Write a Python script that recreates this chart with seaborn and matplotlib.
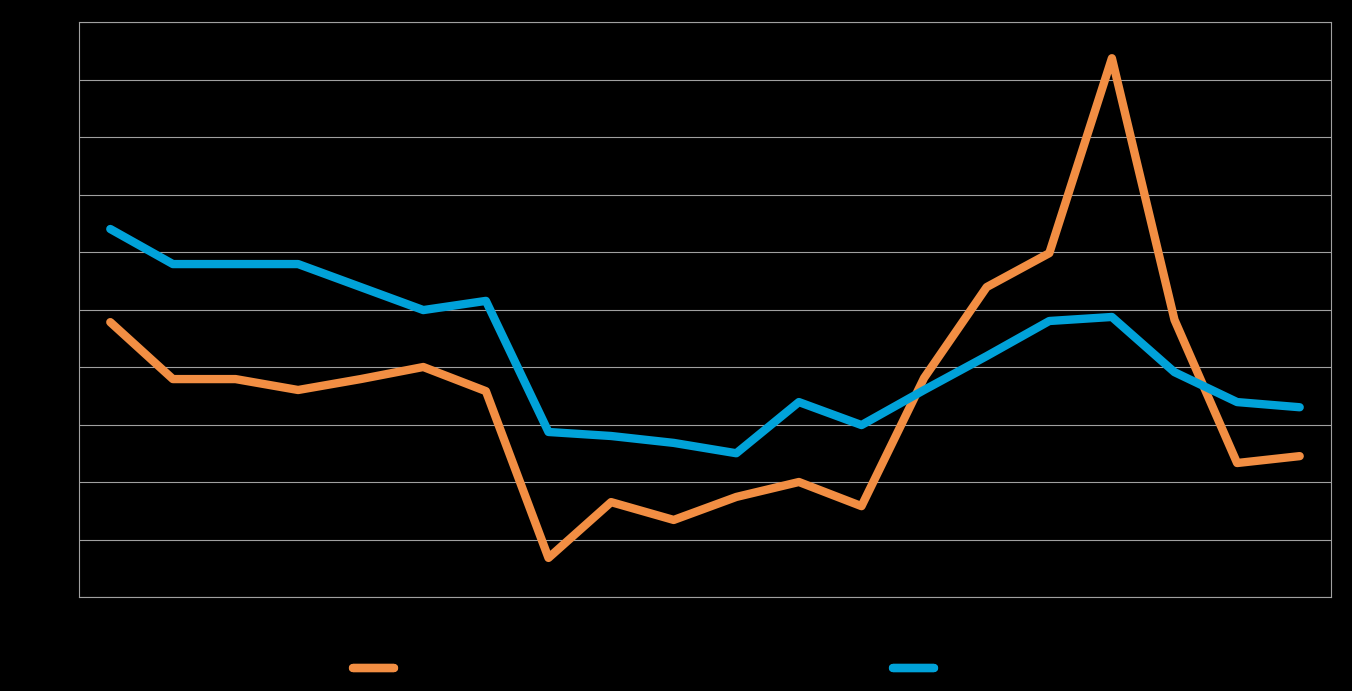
import matplotlib
matplotlib.use("Agg")
import matplotlib.pyplot as plt
import seaborn as sns
import pandas as pd
from matplotlib.lines import Line2D

# Data (no visible labels in the reference)
periods = list(range(20))
series_a = [4.78, 3.79, 3.79, 3.60, 3.79, 4.00, 3.58, 0.68, 1.65, 1.34,
            1.74, 2.00, 1.58, 3.81, 5.39, 5.98, 9.37, 4.82, 2.33, 2.45]
series_b = [6.40, 5.79, 5.79, 5.79, 5.39, 4.99, 5.15, 2.87, 2.80, 2.68,
            2.50, 3.39, 2.99, 3.60, 4.19, 4.80, 4.87, 3.91, 3.39, 3.30]

orange = "#F28E43"
blue = "#00A2D9"
grid_c = "#A0A0A0"

sns.set_theme(style="white")
fig = plt.figure(figsize=(13.52, 6.91), dpi=100, facecolor="black")
ax = fig.add_axes([79/1352, 1-597/691, (1331-79)/1352, (597-22)/691])
ax.set_facecolor("black")

df = pd.DataFrame({"x": periods * 2,
                   "y": series_a + series_b,
                   "s": ["a"] * 20 + ["b"] * 20})
sns.lineplot(data=df, x="x", y="y", hue="s", palette={"a": orange, "b": blue},
             linewidth=6, legend=False, ax=ax, zorder=3)
for ln in ax.get_lines():
    ln.set_solid_capstyle("round")
    ln.set_solid_joinstyle("round")

ax.set_xlim(-0.5, 19.5)
ax.set_ylim(0, 10)
ax.set_yticks(range(0, 11))
ax.set_xticks([])
ax.yaxis.grid(True, color=grid_c, linewidth=0.8)
ax.tick_params(left=False, labelleft=False, bottom=False, labelbottom=False)
ax.set_xlabel("")
ax.set_ylabel("")
for sp in ax.spines.values():
    sp.set_color(grid_c)
    sp.set_linewidth(0.8)

# Legend handles (labels are not visible in the reference)
for color, cx in [(orange, 373.5), (blue, 913.5)]:
    h = Line2D([0], [0], color=color, linewidth=6, solid_capstyle="round")
    leg = fig.legend([h], [""], loc="center", bbox_to_anchor=(cx/1352, 1-669/691),
                     frameon=False, handlelength=3.0, handletextpad=0,
                     borderpad=0, fontsize=10)
    fig.add_artist(leg)

fig.savefig("out.png", dpi=100, facecolor="black")
